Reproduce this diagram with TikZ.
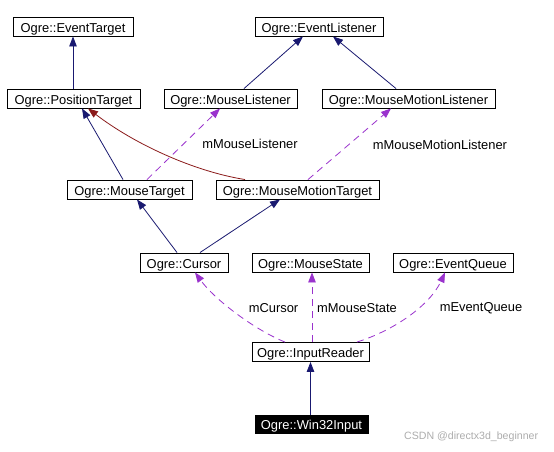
\documentclass[tikz,border=0pt]{standalone}
\usepackage{fontspec}
\setmainfont{Liberation Sans}
\usetikzlibrary{arrows.meta}
\definecolor{inh}{HTML}{191970}
\definecolor{usg}{HTML}{9A32CD}
\definecolor{prot}{HTML}{8B1A1A}
\tikzset{
  cls/.style={draw=black, line width=0.9pt, fill=white, minimum height=19pt, inner sep=0pt, text height=11.4pt, text depth=0pt, font=\fontsize{12.9}{14}\selectfont},
  leaf/.style={cls, fill=black, text=white},
  inhedge/.style={draw=inh, line width=0.8pt, -{Triangle[length=10pt,width=7.5pt]}},
  protedge/.style={draw=prot, line width=0.8pt, -{Triangle[length=10pt,width=7.5pt]}},
  usgedge/.style={draw=usg, line width=0.8pt, dash pattern=on 7pt off 5pt, -{Triangle[length=10pt,width=7.5pt]}},
  elabel/.style={font=\fontsize{12.9}{14}\selectfont, inner sep=0pt},
  wmark/.style={font=\fontsize{10.6}{12}\selectfont, text=black!32, inner sep=0pt}
}
\begin{document}
\begin{tikzpicture}[x=1pt,y=-1pt]
\useasboundingbox (0,0) rectangle (554,452);
\fill[white] (0,0) rectangle (554,452);
% nodes
\node[cls, minimum width=120pt] (et) at (73,26.5) {Ogre::EventTarget};
\node[cls, minimum width=128pt] (el) at (319,26.5) {Ogre::EventListener};
\node[cls, minimum width=133pt] (pt) at (73.5,98.5) {Ogre::PositionTarget};
\node[cls, minimum width=133pt] (ml) at (230.5,98.5) {Ogre::MouseListener};
\node[cls, minimum width=173pt] (mml) at (408.5,98.5) {Ogre::MouseMotionListener};
\node[cls, minimum width=125pt] (mt) at (129.5,189.5) {Ogre::MouseTarget};
\node[cls, minimum width=163pt] (mmt) at (297.5,189.5) {Ogre::MouseMotionTarget};
\node[cls, minimum width=88pt] (cur) at (184,262.5) {Ogre::Cursor};
\node[cls, minimum width=117pt] (ms) at (310.5,262.5) {Ogre::MouseState};
\node[cls, minimum width=120pt] (eq) at (453,262.5) {Ogre::EventQueue};
\node[cls, minimum width=117pt] (ir) at (310.5,352) {Ogre::InputReader};
\node[leaf, minimum width=113pt, minimum height=18pt] (w32) at (311.5,424) {Ogre::Win32Input};
% edges
\draw[inhedge] (pt.north -| et.south) -- (et.south);
\draw[inhedge] ([xshift=13.5pt]ml.north) -- ([xshift=-16pt]el.south);
\draw[inhedge] ([xshift=-12.5pt]mml.north) -- ([xshift=14pt]el.south);
\draw[inhedge] ([xshift=-6.5pt]mt.north) -- ([xshift=8.5pt]pt.south);
\draw[protedge] ([xshift=-52.5pt]mmt.north) .. controls (192,171) and (133,143) .. ([xshift=14.5pt]pt.south);
\draw[usgedge] ([xshift=17.5pt]mt.north) -- ([xshift=-10.5pt]ml.south);
\draw[usgedge] ([xshift=10.5pt]mmt.north) -- ([xshift=-17.5pt]mml.south);
\draw[inhedge] ([xshift=-7pt]cur.north) -- ([xshift=7.5pt]mt.south);
\draw[inhedge] ([xshift=16pt]cur.north) -- ([xshift=-17.5pt]mmt.south);
\draw[usgedge] ([xshift=-25.5pt]ir.north) .. controls (255,330) and (215,300) .. ([xshift=11pt]cur.south);
\draw[usgedge] ([xshift=1.5pt]ir.north) -- ([xshift=1.5pt]ms.south);
\draw[usgedge] ([xshift=46.5pt]ir.north) .. controls (395,330) and (430,305) .. ([xshift=-8pt]eq.south);
\draw[inhedge] (w32.north -| ir.south) -- (ir.south);
% labels
\node[elabel] (l1) at (250,144) {mMouseListener};
\node[elabel] (l2) at (440,145) {mMouseMotionListener};
\node[elabel] (l3) at (273.5,308) {mCursor};
\node[elabel] (l4) at (357,308) {mMouseState};
\node[elabel] (l5) at (481,308) {mEventQueue};
\node[wmark, anchor=west] (wm) at (404,437) {CSDN @directx3d\_beginner};
\end{tikzpicture}
\end{document}
